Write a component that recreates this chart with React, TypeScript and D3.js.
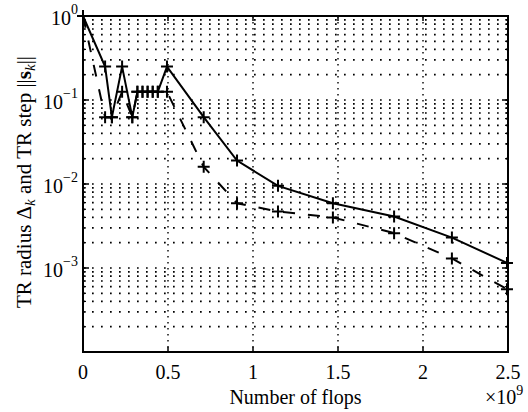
import React from "react";
import * as d3 from "d3";

// Data (flops, trust-region radius, step norm)
const flops = [0, 0.13e9, 0.17e9, 0.23e9, 0.29e9, 0.32e9, 0.35e9, 0.38e9, 0.41e9, 0.44e9, 0.494e9, 0.71e9, 0.906e9, 1.147e9, 1.47e9, 1.83e9, 2.17e9, 2.494e9];
const radius = [1, 0.25, 0.0625, 0.25, 0.0625, 0.125, 0.125, 0.125, 0.125, 0.125, 0.25, 0.0625, 0.019, 0.0095, 0.0059, 0.0041, 0.0023, 0.00115];
const stepNorm = [1, 0.0625, 0.0625, 0.125, 0.0625, 0.125, 0.125, 0.125, 0.125, 0.125, 0.125, 0.016, 0.0059, 0.0047, 0.004, 0.0026, 0.0013, 0.00056];
const xTicks = [0, 0.5e9, 1e9, 1.5e9, 2e9, 2.5e9];
const xTickLabels = ["0", "0.5", "1", "1.5", "2", "2.5"];
const yDecades = [1, 0.1, 0.01, 0.001];
const yDecadeExp = ["0", "−1", "−2", "−3"];

const W = 528, H = 412;
const L = 83, R = 508, T = 16, B = 352;

export default function App() {
  const x = d3.scaleLinear().domain([0, 2.5e9]).range([L, R]);
  const y = d3.scaleLog().domain([1e-4, 1]).range([B, T]);
  const line = d3.line<[number, number]>().x(d => x(d[0])).y(d => y(d[1]));
  const solidPts = flops.map((f, i) => [f, radius[i]] as [number, number]);
  const dashPts = flops.map((f, i) => [f, stepNorm[i]] as [number, number]);

  const gridY: number[] = [];
  for (let e = -4; e <= -1; e++) {
    for (let m = 1; m <= 9; m++) {
      const v = m * Math.pow(10, e);
      if (v > 1e-4 * 1.0001) gridY.push(v);
    }
  }
  const font = "'Liberation Serif', 'Times New Roman', serif";
  const ms = 6;
  const plus = (p: [number, number], k: string) => {
    const cx = x(p[0]), cy = y(p[1]);
    return (
      <path key={k} d={`M${cx - ms},${cy}H${cx + ms}M${cx},${cy - ms}V${cy + ms}`} stroke="#000" strokeWidth={2} fill="none" />
    );
  };

  return (
    <svg width={W} height={H} style={{ position: "absolute", left: 0, top: 0, background: "#fff" }} fontFamily={font}>
      <rect x={0} y={0} width={W} height={H} fill="#fff" />
      {gridY.map((v, i) => (
        <line key={"gy" + i} x1={L} x2={R} y1={y(v)} y2={y(v)} stroke="#000" strokeWidth={1.7} strokeDasharray="1.7 7.3" />
      ))}
      {xTicks.slice(1, -1).map((v, i) => (
        <line key={"gx" + i} x1={x(v)} x2={x(v)} y1={T} y2={B} stroke="#000" strokeWidth={1.4} strokeDasharray="1.4 4.6" />
      ))}
      {xTicks.map((v, i) => (
        <g key={"xt" + i}>
          <line x1={x(v)} x2={x(v)} y1={B} y2={B - 5} stroke="#000" strokeWidth={1.5} />
          <line x1={x(v)} x2={x(v)} y1={T} y2={T + 5} stroke="#000" strokeWidth={1.5} />
        </g>
      ))}
      {gridY.map((v, i) => (
        <g key={"yt" + i}>
          <line x1={L} x2={L + 3} y1={y(v)} y2={y(v)} stroke="#000" strokeWidth={1.2} />
          <line x1={R} x2={R - 3} y1={y(v)} y2={y(v)} stroke="#000" strokeWidth={1.2} />
        </g>
      ))}
      {yDecades.map((v, i) => (
        <g key={"yd" + i}>
          <line x1={L} x2={L + 6} y1={y(v)} y2={y(v)} stroke="#000" strokeWidth={1.5} />
          <line x1={R} x2={R - 6} y1={y(v)} y2={y(v)} stroke="#000" strokeWidth={1.5} />
        </g>
      ))}
      <path d={line(dashPts) || ""} fill="none" stroke="#000" strokeWidth={2} strokeDasharray="12 13" />
      <path d={line(solidPts) || ""} fill="none" stroke="#000" strokeWidth={2} />
      {dashPts.map((p, i) => plus(p, "dm" + i))}
      {solidPts.map((p, i) => plus(p, "sm" + i))}
      <rect x={L} y={T} width={R - L} height={B - T} fill="none" stroke="#000" strokeWidth={2} />
      {xTicks.map((v, i) => (
        <text key={"xl" + i} x={x(v)} y={379} fontSize={20} textAnchor="middle" fill="#000">{xTickLabels[i]}</text>
      ))}
      {yDecades.map((v, i) => (
        <text key={"yl" + i} x={78} y={y(v) + 9} fontSize={20} textAnchor="end" fill="#000">
          10<tspan dy={-11} fontSize={14}>{yDecadeExp[i]}</tspan>
        </text>
      ))}
      <text x={(L + R) / 2} y={404} fontSize={20} textAnchor="middle" fill="#000">Number of flops</text>
      <text x={485} y={404} fontSize={20} fill="#000">
        ×10<tspan dy={-9} fontSize={14}>9</tspan>
      </text>
      <text transform={`translate(31, ${(T + B) / 2 - 2}) rotate(-90)`} fontSize={21} textAnchor="middle" fill="#000">
        TR radius Δ<tspan dy={4} fontSize={15} fontStyle="italic">k</tspan>
        <tspan dy={-4}> and TR step ||</tspan>
        <tspan fontWeight="bold">s</tspan>
        <tspan dy={4} fontSize={15} fontStyle="italic">k</tspan>
        <tspan dy={-4}>||</tspan>
      </text>
    </svg>
  );
}
